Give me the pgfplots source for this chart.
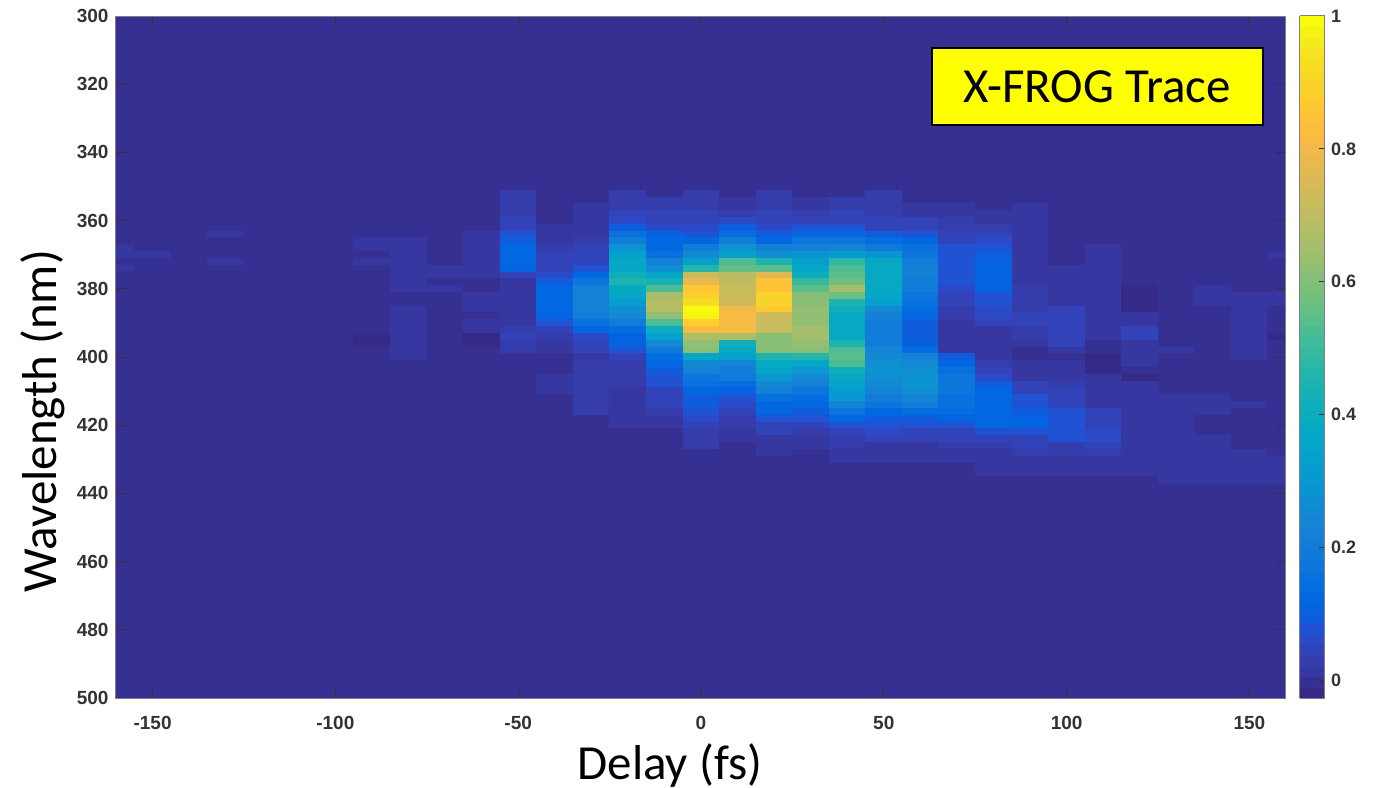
\documentclass[border=0pt]{standalone}
\usepackage{fontspec}
\setmainfont{Liberation Sans}
\newfontfamily\carl{Carlito}
\usepackage{pgfplots}
\usepackage{pgfplotstable}
\pgfplotsset{compat=1.18}
\definecolor{bgc}{rgb}{0.2116,0.1898,0.5777}
\definecolor{tickc}{rgb}{0.20,0.20,0.20}
\definecolor{boxc}{rgb}{0.50,0.50,0.50}
\definecolor{yel}{rgb}{1,1,0}
\pgfplotsset{colormap={parula}{
rgb=(0.2081,0.1663,0.5292) rgb=(0.2116,0.1898,0.5777) rgb=(0.2123,0.2138,0.6270) rgb=(0.2081,0.2386,0.6771)
rgb=(0.1959,0.2645,0.7279) rgb=(0.1707,0.2919,0.7792) rgb=(0.1253,0.3242,0.8303) rgb=(0.0591,0.3598,0.8683)
rgb=(0.0117,0.3875,0.8820) rgb=(0.0060,0.4086,0.8828) rgb=(0.0165,0.4266,0.8786) rgb=(0.0329,0.4430,0.8720)
rgb=(0.0498,0.4586,0.8641) rgb=(0.0629,0.4737,0.8554) rgb=(0.0723,0.4887,0.8467) rgb=(0.0779,0.5040,0.8384)
rgb=(0.0793,0.5200,0.8312) rgb=(0.0749,0.5375,0.8263) rgb=(0.0641,0.5570,0.8240) rgb=(0.0488,0.5772,0.8228)
rgb=(0.0343,0.5966,0.8199) rgb=(0.0265,0.6137,0.8135) rgb=(0.0239,0.6287,0.8038) rgb=(0.0231,0.6418,0.7913)
rgb=(0.0228,0.6535,0.7768) rgb=(0.0267,0.6642,0.7607) rgb=(0.0384,0.6743,0.7436) rgb=(0.0590,0.6838,0.7254)
rgb=(0.0843,0.6928,0.7062) rgb=(0.1133,0.7015,0.6859) rgb=(0.1453,0.7098,0.6646) rgb=(0.1801,0.7177,0.6424)
rgb=(0.2178,0.7250,0.6193) rgb=(0.2586,0.7317,0.5954) rgb=(0.3022,0.7376,0.5712) rgb=(0.3482,0.7424,0.5473)
rgb=(0.3953,0.7459,0.5244) rgb=(0.4420,0.7481,0.5033) rgb=(0.4871,0.7491,0.4840) rgb=(0.5300,0.7491,0.4661)
rgb=(0.5709,0.7485,0.4494) rgb=(0.6099,0.7473,0.4337) rgb=(0.6473,0.7456,0.4188) rgb=(0.6834,0.7435,0.4044)
rgb=(0.7184,0.7411,0.3905) rgb=(0.7525,0.7384,0.3768) rgb=(0.7858,0.7356,0.3633) rgb=(0.8185,0.7327,0.3498)
rgb=(0.8507,0.7299,0.3360) rgb=(0.8824,0.7274,0.3217) rgb=(0.9139,0.7258,0.3063) rgb=(0.9450,0.7261,0.2886)
rgb=(0.9739,0.7314,0.2666) rgb=(0.9938,0.7455,0.2403) rgb=(0.9990,0.7653,0.2164) rgb=(0.9955,0.7861,0.1967)
rgb=(0.9880,0.8066,0.1794) rgb=(0.9789,0.8271,0.1633) rgb=(0.9697,0.8481,0.1475) rgb=(0.9626,0.8705,0.1309)
rgb=(0.9589,0.8949,0.1132) rgb=(0.9598,0.9218,0.0948) rgb=(0.9661,0.9514,0.0755) rgb=(0.9763,0.9831,0.0538)
}}
% delay columns -160 ... 160 in steps of 10 fs; values are percent of the peak
\pgfplotstableread{
350 0 0 0 0 0 0 0 0 0 0 0 0 0 0 0 0 0 0 0 0 0 0 0 0 0 0 0 0 0 0 0 0 0
352 0 0 0 0 0 0 0 0 0 0 0 3 0 0 3 0 3 0 3 0 0 3 0 0 0 0 0 0 0 0 0 0 0
354 0 0 0 0 0 0 0 0 0 0 0 3 0 0 3 3 3 2 3 2 3 3 0 0 0 0 0 0 0 0 0 0 0
356 0 0 0 0 0 0 0 0 0 0 0 3 0 2 3 3 3 2 3 2 3 3 2 2 0 2 0 0 0 0 0 0 0
358 0 0 0 0 0 0 0 0 0 0 0 3 0 2 5 4 4 3 4 3 4 3 2 2 2 2 0 0 0 0 0 0 0
360 0 0 0 0 0 0 0 0 0 0 0 5 0 2 6 5 5 6 5 5 5 4 4 3 2 2 0 0 0 0 0 0 0
362 0 0 0 0 0 0 0 0 0 0 0 5 1 2 9 6 6 9 6 8 7 5 4 3 3 2 0 0 0 0 0 0 0
364 0 0 0 1 0 0 0 0 0 0 2 8 1 2 15 11 8 14 10 12 12 10 8 4 4 2 0 0 0 0 0 0 0
366 0 0 0 0 0 0 0 2 2 0 2 9 2 3 20 12 13 20 12 17 17 14 12 5 6 2 0 0 0 0 0 0 0
368 2 0 0 0 0 0 0 2 2 0 2 12 3 4 28 13 20 28 22 22 23 19 16 7 8 2 0 2 0 0 0 0 0
370 2 1 0 0 0 0 0 0 2 0 2 13 5 4 33 16 26 33 27 28 32 28 18 7 10 2 0 2 0 0 0 0 2
372 0 0 0 1 0 0 0 2 2 0 2 13 5 5 36 22 33 52 45 33 48 38 20 7 11 2 -1 1 0 0 0 0 0
374 1 0 0 0 0 0 0 0 2 1 2 11 5 7 37 27 47 56 55 37 52 38 22 7 11 2 1 1 0 0 0 0 0
376 0 0 0 0 0 0 0 0 2 1 2 5 6 13 42 36 72 68 76 40 54 38 22 7 11 2 1 1 0 0 0 0 0
378 0 0 0 0 0 0 0 0 2 -1 -1 2 10 17 44 43 78 70 84 50 58 38 21 7 11 2 1 1 0 -1 0 0 0
380 0 0 0 0 0 0 0 0 2 1 -1 1 12 22 38 52 86 72 85 55 66 38 20 6 11 3 1 1 -2 -1 1 0 0
382 0 0 0 0 0 0 0 0 0 0 2 1 13 22 36 66 88 72 90 60 58 37 18 5 8 3 1 1 -2 -1 1 1 1
384 0 0 0 0 0 0 0 0 0 0 2 1 13 22 32 68 92 73 90 60 45 33 16 5 7 3 1 1 -2 -1 1 2 1
386 0 0 0 0 0 0 0 0 2 0 2 1 13 22 27 68 100 80 87 62 41 26 14 3 6 3 4 1 -2 -1 0 2 -1
388 0 0 0 0 0 0 0 0 2 0 0 1 11 21 25 62 97 81 74 63 39 22 12 3 6 5 4 1 1 -1 0 2 -1
390 0 0 0 0 0 0 0 0 2 0 2 1 8 15 20 52 88 81 72 63 39 20 10 1 4 5 4 1 2 -1 0 2 -1
392 0 0 0 0 0 0 0 0 2 0 2 3 5 12 14 40 82 81 72 66 38 20 10 1 2 3 4 1 4 -1 0 2 -1
394 -1 0 -1 -1 -1 -1 0 -2 2 0 -2 4 3 6 11 33 67 67 60 66 38 20 10 1 1 3 4 1 4 -1 0 2 -2
396 0 0 0 0 0 0 0 -2 2 0 -2 3 2 5 11 25 62 42 60 62 44 21 11 1 1 1 4 -1 1 0 0 2 -1
398 0 0 0 0 0 0 0 0 2 0 0 3 1 4 7 19 60 38 60 60 52 23 14 1 1 0 1 0 1 1 0 2 0
400 0 0 0 0 0 0 0 -1 2 0 0 0 0 2 5 14 36 33 44 46 55 25 22 9 2 -1 0 -2 1 0 0 2 0
402 0 0 0 0 0 0 0 -1 0 0 0 0 0 3 3 13 26 23 38 36 52 27 25 13 3 1 1 -2 2 -1 0 0 0
404 0 0 0 0 0 0 0 0 0 0 0 0 0 3 3 9 22 20 36 30 42 28 27 16 5 1 1 -2 -1 -1 0 0 0
406 0 0 0 0 0 0 0 0 0 0 0 0 1 3 3 8 18 19 30 26 38 27 28 17 6 2 1 1 -2 -1 0 0 0
408 0 0 0 0 0 0 0 0 0 0 0 0 1 3 3 7 16 14 26 22 35 25 28 17 10 4 3 1 1 -1 0 0 0
410 0 0 0 0 0 0 0 0 0 0 0 0 1 3 2 5 13 11 22 18 32 23 27 17 12 5 4 1 1 -1 0 0 0
412 0 0 0 0 0 0 0 0 0 0 0 0 0 3 2 5 10 8 15 14 30 21 24 16 13 7 5 1 1 1 1 0 0
414 0 0 0 0 0 0 0 0 0 0 0 0 0 3 2 5 9 6 13 12 24 17 20 16 13 7 5 1 1 1 2 1 0
416 0 0 0 0 0 0 0 0 0 0 0 0 0 3 2 3 8 5 12 10 18 13 14 14 13 10 7 4 1 1 2 -1 0
418 0 0 0 0 0 0 0 0 0 0 0 0 0 0 2 2 6 3 8 7 12 10 10 11 13 11 7 4 1 1 -1 -1 -1
420 0 0 0 0 0 0 0 0 0 0 0 0 0 0 1 2 5 3 5 5 8 8 7 8 13 11 7 4 1 1 -1 -1 -1
422 0 0 0 0 0 0 0 0 0 0 0 0 0 0 0 0 3 2 4 3 5 6 5 5 7 7 7 6 1 1 -1 -1 -1
424 0 0 0 0 0 0 0 0 0 0 0 0 0 0 0 0 3 2 2 2 3 4 4 4 5 5 7 6 1 1 1 -1 -1
426 0 0 0 0 0 0 0 0 0 0 0 0 0 0 0 0 3 0 2 2 3 2 2 3 3 4 3 4 1 1 1 -1 -1
428 0 0 0 0 0 0 0 0 0 0 0 0 0 0 0 0 0 0 2 0 2 2 2 2 2 3 3 3 1 1 1 1 -1
430 0 0 0 0 0 0 0 0 0 0 0 0 0 0 0 0 0 0 0 0 2 2 1 2 2 2 2 1 1 1 1 1 1
432 0 0 0 0 0 0 0 0 0 0 0 0 0 0 0 0 0 0 0 0 0 0 0 0 2 2 2 1 1 1 1 1 1
434 0 0 0 0 0 0 0 0 0 0 0 0 0 0 0 0 0 0 0 0 0 0 0 0 1 1 1 1 1 1 1 1 1
436 0 0 0 0 0 0 0 0 0 0 0 0 0 0 0 0 0 0 0 0 0 0 0 0 0 0 0 0 0 1 1 1 1
}\frog
% long form of the same table: delay, wavelength, value
\gdef\flat{x y z\noexpand\\}
\pgfplotsforeachungrouped \r in {0,...,43}{%
  \pgfplotstablegetelem{\r}{[index]0}\of\frog \let\lam=\pgfplotsretval
  \pgfplotsforeachungrouped \c in {1,...,33}{%
    \pgfplotstablegetelem{\r}{[index]\c}\of\frog
    \xdef\flat{\flat \the\numexpr-170+10*\c\relax\space\lam\space\pgfplotsretval\noexpand\noexpand\noexpand\\}%
  }%
}
\begin{document}
\begin{tikzpicture}
\useasboundingbox (-116pt,-89pt) rectangle (1264pt,698pt);
\begin{axis}[
  scale only axis, width=1170pt, height=682pt,
  xmin=-160, xmax=160, ymin=300, ymax=500, y dir=reverse,
  axis on top,
  axis background/.style={fill=bgc},
  axis line style={color=boxc, line width=1pt},
  tick align=inside, tick style={color=tickc, line width=1pt},
  major tick length=10pt, minor tick num=0,
  xtick={-150,-100,-50,0,50,100,150},
  xticklabels={-150,-100,-50,0,50,100,150},
  ytick={300,320,340,360,380,400,420,440,460,480,500},
  yticklabels={300,320,340,360,380,400,420,440,460,480,500},
  ticklabel style={font=\fontsize{19}{21}\selectfont\bfseries, text=black!80},
  xticklabel style={yshift=-15pt},
  yticklabel style={xshift=-4pt},
  xlabel={\carl\fontsize{49}{56}\selectfont Delay (fs)},
  ylabel={\carl\fontsize{49}{56}\selectfont Wavelength (nm)},
  xlabel style={at={(axis description cs:0.4735,-0.0995)}, anchor=center},
  ylabel style={at={(axis description cs:-0.0622,0.406)}, anchor=center},
  point meta min=-0.027, point meta max=1,
  colormap name=parula, colormap access=piecewise constant,
  colorbar,
  colorbar style={
    scale only axis, width=25pt, height=682pt,
    at={(parent axis.north east)}, anchor=north west, xshift=5pt,
    ytick={0,0.2,0.4,0.6,0.8,1},
    yticklabels={0,0.2,0.4,0.6,0.8,1},
    yticklabel pos=right, tick align=inside, major tick length=6pt,
    ytick pos=right,
    axis line style={color=boxc, line width=1pt},
    tick style={color=tickc, line width=1pt},
    yticklabel style={font=\fontsize{18}{20}\selectfont\bfseries, text=black!80, xshift=3pt},
  },
]
\edef\tmp{\noexpand\pgfplotstableread[row sep=crcr]{\flat}\noexpand\frogflat}\tmp
\addplot[matrix plot*, mesh/cols=33, mesh/rows=44, point meta=\thisrow{z}/100]
  table[x=x, y=y] {\frogflat};
\node[draw=black, line width=2pt, fill=yel, minimum width=331pt, minimum height=77pt, inner sep=0pt]
  at (axis cs:108.4,320.7) {\raisebox{-2pt}{\carl\fontsize{49}{56}\selectfont X-FROG Trace}};
\end{axis}
\end{tikzpicture}
\end{document}
